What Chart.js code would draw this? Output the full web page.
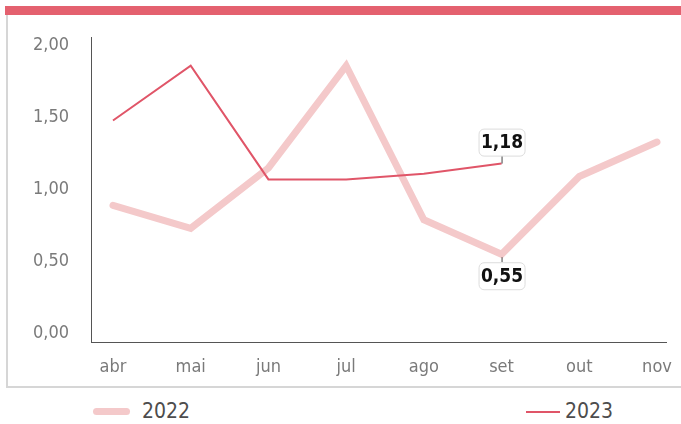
<!DOCTYPE html>
<html>
<head>
<meta charset="utf-8">
<script src="https://cdn.jsdelivr.net/npm/chart.js@4"></script>
<style>
  body { margin: 0; background: #fff; width: 681px; height: 424px; overflow: hidden; position: relative;
         font-family: "DejaVu Sans Condensed", "Liberation Sans Narrow", Roboto, sans-serif; }
  #topbar { position: absolute; left: 5px; top: 6px; width: 676px; height: 9px; background: #e4616f; }
  #box { position: absolute; left: 6px; top: 15px; width: 675px; height: 371px;
         border-left: 2px solid #d6d6d6; border-bottom: 2px solid #d6d6d6; }
  #wrap { position: absolute; left: 0; top: 15px; width: 681px; height: 372px; }
  .leg { position: absolute; top: 399px; font-size: 21px; color: #4d4d4d; line-height: 24px; }
  .sw { position: absolute; top: 411px; border-radius: 4px; }
</style>
</head>
<body>
<div id="topbar"></div>
<div id="box"></div>
<div id="wrap"><canvas id="c"></canvas></div>
<div class="sw" style="left:93px;width:37px;height:7px;margin-top:-3px;background:#f4c9ca"></div>
<div class="leg" style="left:142px">2022</div>
<div class="sw" style="left:526px;width:34px;height:2px;background:#e05568;border-radius:0"></div>
<div class="leg" style="left:565px">2023</div>
<script>
// months shown on the x axis
const months = ["abr", "mai", "jun", "jul", "ago", "set", "out", "nov"];
const yTicks = [0, 0.5, 1, 1.5, 2];

// monthly values
const values2022 = [0.89, 0.73, 1.15, 1.86, 0.79, 0.55, 1.09, 1.33];
const values2023 = [1.48, 1.86, 1.07, 1.07, 1.11, 1.18];

// labelled points: [dataset index, point index, side]
const callouts = [[0, 5, "above"], [1, 5, "below"]];

const fontStack = "'DejaVu Sans Condensed', 'Liberation Sans Narrow', Roboto, sans-serif";
const fmt = (v) => v.toFixed(2).replace(".", ",");
const toPoints = (arr) => arr.map((v, i) => ({ x: i, y: v }));

const calloutPlugin = {
  id: "callouts",
  afterDatasetsDraw(chart) {
    const ctx = chart.ctx;
    callouts.forEach(([ds, idx, side]) => {
      const v = chart.data.datasets[ds].data[idx];
      const px = chart.scales.x.getPixelForValue(v.x);
      const py = chart.scales.y.getPixelForValue(v.y);
      const w = 46, h = 27, gap = 8;
      const top = side === "above" ? py - gap - h : py + gap;
      ctx.save();
      ctx.strokeStyle = "#444";
      ctx.lineWidth = 1;
      ctx.beginPath();
      if (side === "above") { ctx.moveTo(px + 0.5, py); ctx.lineTo(px + 0.5, top + h); }
      else { ctx.moveTo(px + 0.5, py + 3); ctx.lineTo(px + 0.5, top); }
      ctx.stroke();
      ctx.fillStyle = "#fff";
      ctx.strokeStyle = "#dcdcdc";
      ctx.beginPath();
      ctx.roundRect(px - w / 2 + 0.5, top + 0.5, w, h, 5);
      ctx.fill();
      ctx.stroke();
      ctx.fillStyle = "#111";
      ctx.font = "bold 19px " + fontStack;
      ctx.textAlign = "center";
      ctx.textBaseline = "middle";
      ctx.fillText(fmt(v.y), px + 0.5, top + h / 2 + 1);
      ctx.restore();
    });
  },
};

const tickFont = { family: fontStack, size: 18 };

new Chart(document.getElementById("c"), {
  type: "line",
  data: {
    datasets: [
      {
        label: "2023",
        data: toPoints(values2023),
        borderColor: "#e05568",
        borderWidth: 2,
        pointRadius: 0,
        tension: 0,
        order: 0,
      },
      {
        label: "2022",
        data: toPoints(values2022),
        borderColor: "#f4c9ca",
        borderWidth: 7,
        borderCapStyle: "round",
        pointRadius: 0,
        tension: 0,
        order: 1,
      },
    ],
  },
  options: {
    responsive: true,
    maintainAspectRatio: false,
    animation: false,
    layout: { padding: { top: 22, right: 15, left: 0, bottom: 0 } },
    plugins: { legend: { display: false }, tooltip: { enabled: false } },
    scales: {
      x: {
        type: "linear",
        min: -0.283,
        max: 7.116,
        afterBuildTicks: (s) => { s.ticks = months.map((m, i) => ({ value: i })); },
        afterFit: (s) => { s.height = 45; s.paddingLeft = 0; s.paddingRight = 0; },
        grid: { display: false, drawTicks: false },
        border: { display: true, color: "#555", width: 1 },
        ticks: { color: "#7a7a7a", font: tickFont, padding: 15, callback: (v) => months[v], maxRotation: 0, autoSkip: false },
      },
      y: {
        min: -0.06,
        max: 2.06,
        afterBuildTicks: (s) => { s.ticks = yTicks.map((v) => ({ value: v })); },
        afterFit: (s) => { s.width = 91; s.paddingTop = 0; s.paddingBottom = 0; },
        grid: { display: false, drawTicks: false },
        border: { display: true, color: "#555", width: 1 },
        ticks: { color: "#7a7a7a", font: tickFont, padding: 22, callback: (v) => fmt(v) },
      },
    },
  },
  plugins: [calloutPlugin],
});
</script>
</body>
</html>
